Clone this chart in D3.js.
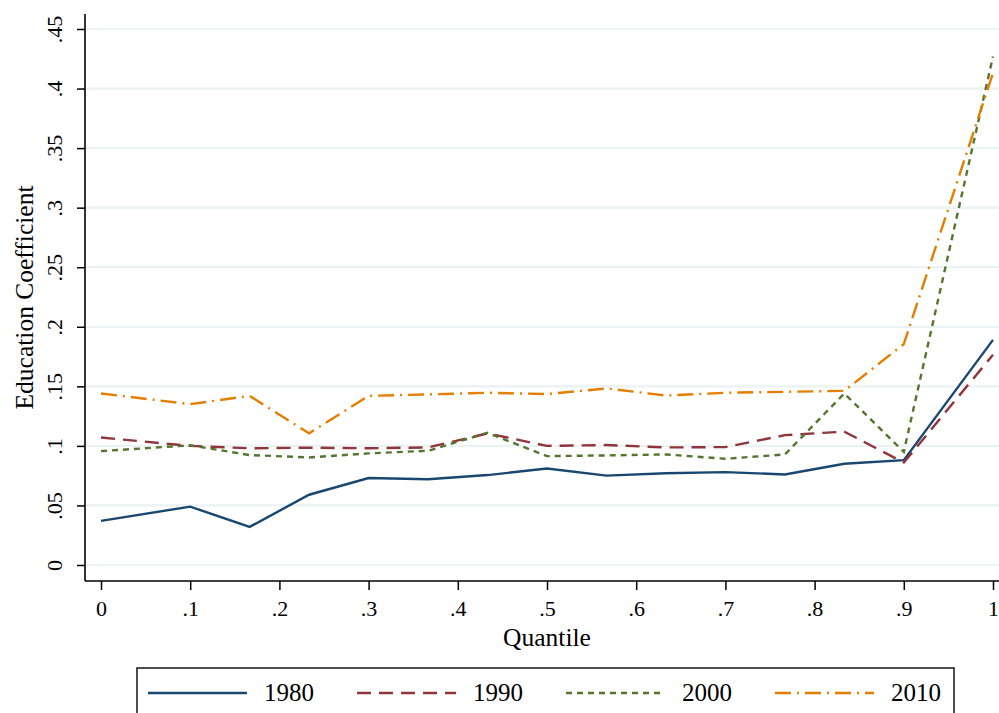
<!DOCTYPE html>
<html>
<head>
<meta charset="utf-8">
<script src="https://cdn.jsdelivr.net/npm/d3@7"></script>
<style>
  html, body { margin: 0; padding: 0; background: #fff; }
  svg { display: block; font-family: "Liberation Serif", "Times New Roman", serif; }
</style>
</head>
<body>
<svg id="chart" width="999" height="713"></svg>
<script>
// Quantile grid on which the education coefficient was estimated
const quantiles = [0, 0.1, 0.1667, 0.2333, 0.3, 0.3667, 0.4333, 0.5, 0.5667, 0.6333, 0.7, 0.7667, 0.8333, 0.9, 1];

// Education coefficient by quantile, one array per census year
const coef1980 = [0.037, 0.049, 0.032, 0.059, 0.073, 0.072, 0.0755, 0.081, 0.075, 0.077, 0.078, 0.076, 0.085, 0.088, 0.189];
const coef1990 = [0.107, 0.100, 0.098, 0.0985, 0.098, 0.0987, 0.1105, 0.100, 0.1007, 0.0987, 0.099, 0.109, 0.112, 0.086, 0.1765];
const coef2000 = [0.0956, 0.1005, 0.0923, 0.0903, 0.0937, 0.0959, 0.111, 0.0914, 0.092, 0.0928, 0.0892, 0.0928, 0.144, 0.095, 0.427];
const coef2010 = [0.144, 0.135, 0.142, 0.1105, 0.142, 0.1432, 0.1446, 0.1435, 0.1482, 0.1423, 0.1446, 0.1454, 0.1462, 0.1855, 0.413];

const seriesNames = ["1980", "1990", "2000", "2010"];
const seriesValues = [coef1980, coef1990, coef2000, coef2010];

const yTicks = [0, 0.05, 0.1, 0.15, 0.2, 0.25, 0.3, 0.35, 0.4, 0.45];
const yTickLabels = ["0", ".05", ".1", ".15", ".2", ".25", ".3", ".35", ".4", ".45"];
const xTicks = [0, 0.1, 0.2, 0.3, 0.4, 0.5, 0.6, 0.7, 0.8, 0.9, 1];
const xTickLabels = ["0", ".1", ".2", ".3", ".4", ".5", ".6", ".7", ".8", ".9", "1"];

// Line styles (Stata s2color palette)
const colors = ["#1a476f", "#90353b", "#55752f", "#e37e00"];
const dashes = [null, "14,8", "6,5", "16,6,2,6"];

const svg = d3.select("#chart");

const x = d3.scaleLinear().domain([0, 1]).range([101, 993]);
const y = d3.scaleLinear().domain([0, 0.45]).range([565, 29]);

const plotLeft = 85, plotRight = 999, plotTop = 14, plotBottom = 581;

// Horizontal grid lines
svg.append("g")
  .selectAll("line")
  .data(yTicks)
  .join("line")
  .attr("x1", plotLeft + 1)
  .attr("x2", plotRight)
  .attr("y1", d => y(d))
  .attr("y2", d => y(d))
  .attr("stroke", "#eaf2f3")
  .attr("stroke-width", 2.2);

// Y axis
const yAxis = d3.axisLeft(y)
  .tickValues(yTicks)
  .tickFormat((d, i) => yTickLabels[i])
  .tickSize(8)
  .tickPadding(7);

const gy = svg.append("g")
  .attr("transform", `translate(${plotLeft},0)`)
  .call(yAxis);
gy.select(".domain").remove();
gy.selectAll(".tick line").attr("stroke", "#000").attr("stroke-width", 1.5);
gy.selectAll(".tick text")
  .attr("font-family", "Liberation Serif, serif")
  .attr("font-size", 22)
  .attr("fill", "#000")
  .attr("text-anchor", "middle")
  .attr("transform", null)
  .attr("x", null)
  .attr("dy", null)
  .attr("transform", "translate(-23,0) rotate(-90)");

svg.append("line")
  .attr("x1", plotLeft).attr("x2", plotLeft)
  .attr("y1", plotTop).attr("y2", plotBottom)
  .attr("stroke", "#000").attr("stroke-width", 1.6);

// X axis
const xAxis = d3.axisBottom(x)
  .tickValues(xTicks)
  .tickFormat((d, i) => xTickLabels[i])
  .tickSize(9)
  .tickPadding(6);

const gx = svg.append("g")
  .attr("transform", `translate(0,${plotBottom})`)
  .call(xAxis);
gx.select(".domain").remove();
gx.selectAll(".tick line").attr("stroke", "#000").attr("stroke-width", 1.5);
gx.selectAll(".tick text")
  .attr("font-family", "Liberation Serif, serif")
  .attr("font-size", 22)
  .attr("fill", "#000")
  .attr("dy", null)
  .attr("y", 35);

svg.append("line")
  .attr("x1", plotLeft).attr("x2", plotRight)
  .attr("y1", plotBottom).attr("y2", plotBottom)
  .attr("stroke", "#000").attr("stroke-width", 1.6);

// Axis titles
svg.append("text")
  .attr("x", (x(0) + x(1)) / 2)
  .attr("y", 646)
  .attr("text-anchor", "middle")
  .attr("font-size", 25.5)
  .text("Quantile");

svg.append("text")
  .attr("transform", `translate(33,${(plotTop + plotBottom) / 2}) rotate(-90)`)
  .attr("text-anchor", "middle")
  .attr("font-size", 25.5)
  .text("Education Coefficient");

// Series lines
const line = d3.line()
  .x((d, i) => x(quantiles[i]))
  .y(d => y(d));

svg.append("g")
  .selectAll("path")
  .data(seriesValues)
  .join("path")
  .attr("d", d => line(d))
  .attr("fill", "none")
  .attr("stroke", (d, i) => colors[i])
  .attr("stroke-width", 2.4)
  .attr("stroke-dasharray", (d, i) => dashes[i])
  .attr("stroke-linejoin", "miter");

// Legend
const legend = svg.append("g");
legend.append("rect")
  .attr("x", 137).attr("y", 668)
  .attr("width", 817).attr("height", 60)
  .attr("fill", "#fff")
  .attr("stroke", "#222")
  .attr("stroke-width", 1.6);

const entry = legend.selectAll("g.entry")
  .data(seriesNames)
  .join("g")
  .attr("class", "entry")
  .attr("transform", (d, i) => `translate(${148 + i * 209},0)`);

entry.append("line")
  .attr("x1", 0).attr("x2", 99)
  .attr("y1", 693).attr("y2", 693)
  .attr("stroke", (d, i) => colors[i])
  .attr("stroke-width", 2.4)
  .attr("stroke-dasharray", (d, i) => dashes[i]);

entry.append("text")
  .attr("x", 116)
  .attr("y", 701)
  .attr("font-size", 25)
  .text(d => d);
</script>
</body>
</html>
